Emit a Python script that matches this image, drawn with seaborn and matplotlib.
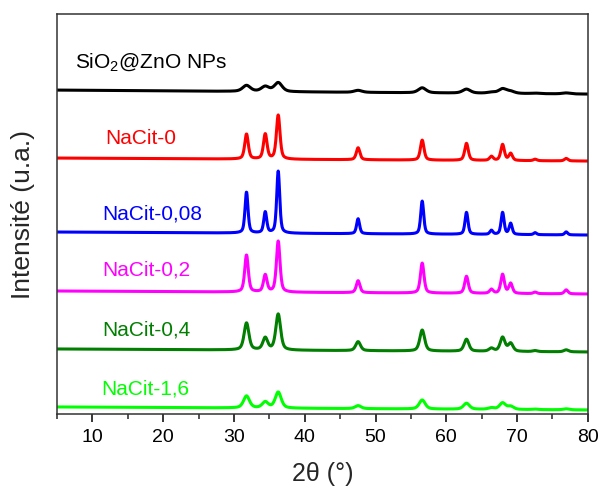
import numpy as np
import pandas as pd
import matplotlib
matplotlib.use("Agg")
import matplotlib.pyplot as plt
import seaborn as sns
from matplotlib.ticker import MultipleLocator

# ZnO reflections (2theta, degrees)
peak_pos = [31.77, 34.42, 36.25, 47.54, 56.60, 62.86, 66.38, 67.96, 69.10, 72.56, 76.95]

samples = ["SiO2@ZnO NPs", "NaCit-0", "NaCit-0,08", "NaCit-0,2", "NaCit-0,4", "NaCit-1,6"]
labels = [r"SiO$_2$@ZnO NPs", "NaCit-0", "NaCit-0,08", "NaCit-0,2", "NaCit-0,4", "NaCit-1,6"]
colors = ["#000000", "#FF0000", "#0000FF", "#FF00FF", "#007F00", "#00FF00"]

# peak heights (a.u.)
heights = {
    "SiO2@ZnO NPs": [6, 5, 9, 2, 5, 4, 1, 4.5, 2, 0.5, 1],
    "NaCit-0":      [25, 25, 44, 12, 20, 17, 4, 16, 7, 1.5, 2.5],
    "NaCit-0,08":   [41, 21, 62, 15, 33, 22, 4, 22, 11, 2, 3],
    "NaCit-0,2":    [37, 17, 51, 12, 30, 17, 4, 19, 10, 1.5, 4],
    "NaCit-0,4":    [27, 12, 36, 9, 21, 12, 3, 14, 8, 1, 2],
    "NaCit-1,6":    [12, 6, 16, 3, 9, 6, 1.5, 6.5, 3, 0.5, 1],
}
# peak widths (FWHM, degrees)
fwhm = [1.3, 0.6, 0.5, 0.6, 0.8, 1.0]
# background level at 5 and 80 degrees (stack offset)
bg_start = [324, 256, 182, 123, 65, 7]
bg_end = [320, 253, 179, 120, 62, 4]

label_x = [7.5, 11.8, 11.4, 11.4, 11.4, 11.3]
label_y = [352, 276, 200, 144, 84, 25]

two_theta = np.linspace(5, 80, 1501)


def pattern(h, w, b0, b1):
    y = b0 + (b1 - b0) * (two_theta - 5) / 75
    for p, a in zip(peak_pos, h):
        lor = 1 / (1 + ((two_theta - p) / (w / 2)) ** 2)
        gau = np.exp(-np.log(2) * ((two_theta - p) / (w / 2)) ** 2)
        y = y + a * (0.5 * lor + 0.5 * gau)
    return y


frames = []
for i, s in enumerate(samples):
    frames.append(pd.DataFrame({
        "2theta": two_theta,
        "I": pattern(heights[s], fwhm[i], bg_start[i], bg_end[i]),
        "sample": s,
    }))
df = pd.concat(frames, ignore_index=True)

sns.set_style("ticks")
plt.rcParams["font.family"] = ["Liberation Sans", "DejaVu Sans"]
plt.rcParams["mathtext.fontset"] = "custom"
plt.rcParams["mathtext.rm"] = "Liberation Sans"
plt.rcParams["mathtext.it"] = "Liberation Sans:italic"

fig = plt.figure(figsize=(6.01, 4.87), dpi=100)
ax = fig.add_axes([0.095, 0.150, 0.883, 0.821])

sns.lineplot(data=df, x="2theta", y="I", hue="sample", palette=colors,
             hue_order=samples, linewidth=2.2, legend=False, ax=ax)

for i in range(len(samples)):
    ax.text(label_x[i], label_y[i], labels[i], color=colors[i], fontsize=15,
            va="center", ha="left")

ax.set_xlim(5, 80)
ax.set_ylim(0, 400)
ax.xaxis.set_major_locator(MultipleLocator(10))
ax.xaxis.set_minor_locator(MultipleLocator(5))
ax.set_xticks(range(10, 81, 10))
ax.set_yticks([])
ax.tick_params(axis="x", which="major", direction="out", length=6, width=1.1,
               labelsize=14, pad=5, colors="black")
ax.tick_params(axis="x", which="minor", direction="out", length=3.5, width=1.1)
for sp in ax.spines.values():
    sp.set_visible(True)
    sp.set_linewidth(1.1)
    sp.set_color("#333333")

ax.set_xlabel("2θ (°)", fontsize=18, labelpad=11)
ax.set_ylabel("Intensité (u.a.)", fontsize=19, labelpad=16)

fig.savefig("out.png", dpi=100)
